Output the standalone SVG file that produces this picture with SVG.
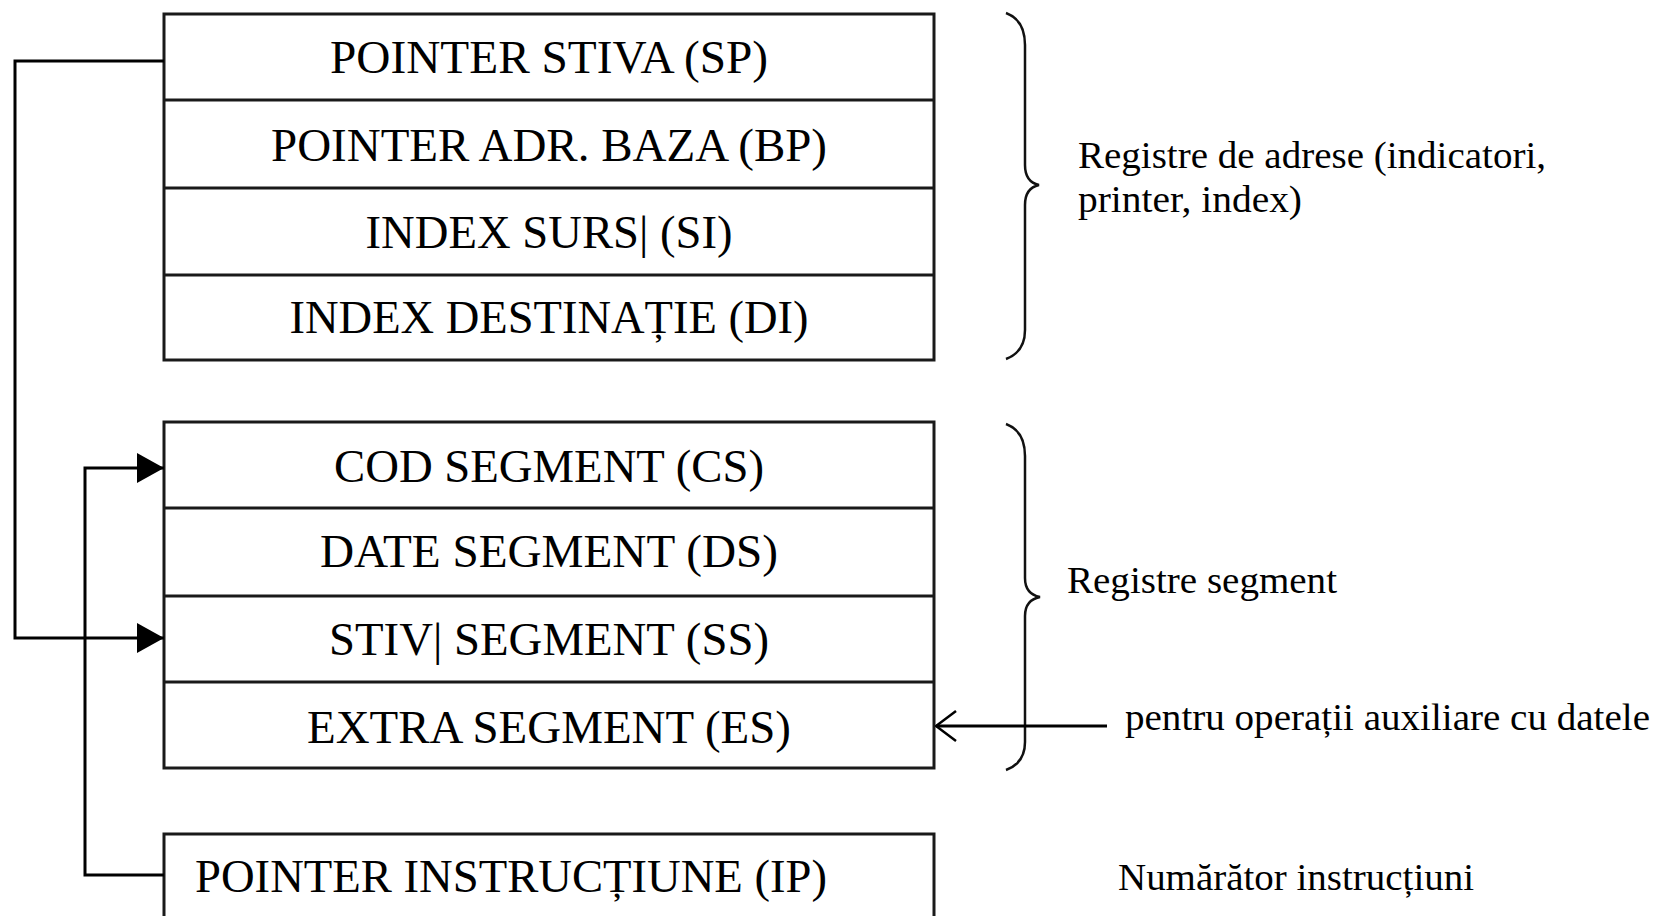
<svg xmlns="http://www.w3.org/2000/svg" width="1657" height="916" viewBox="0 0 1657 916">
<style>
.box{fill:#fff;stroke:#1a1a1a;stroke-width:3}
.div{stroke:#1a1a1a;stroke-width:3}
.reg{font-family:"Liberation Serif","Times New Roman",serif;font-size:46px;fill:#000;text-anchor:middle}
.lbl{font-family:"Liberation Serif","Times New Roman",serif;font-size:38px;fill:#000}
.ln{fill:none;stroke:#000;stroke-width:3}
.brace{fill:none;stroke:#111;stroke-width:2.5}
</style>
<defs>
<marker id="tri" viewBox="0 0 27 30" refX="27" refY="15" markerWidth="27" markerHeight="30" markerUnits="userSpaceOnUse" orient="auto">
<path d="M0,0 L27,15 L0,30 Z" fill="#000"/>
</marker>
<marker id="open" viewBox="0 0 22 32" refX="21" refY="16" markerWidth="22" markerHeight="32" markerUnits="userSpaceOnUse" orient="auto">
<path d="M1,1 L21,16 L1,31" fill="none" stroke="#000" stroke-width="2.5"/>
</marker>
</defs>

<g id="grp-adrese">
<rect class="box" x="164" y="14" width="770" height="346"/>
<line class="div" x1="164" y1="100" x2="934" y2="100"/>
<line class="div" x1="164" y1="188" x2="934" y2="188"/>
<line class="div" x1="164" y1="275" x2="934" y2="275"/>
</g>
<g id="sp"><text class="reg" x="549" y="73" textLength="438" lengthAdjust="spacingAndGlyphs">POINTER STIVA (SP)</text></g>
<g id="bp"><text class="reg" x="549" y="161" textLength="556" lengthAdjust="spacingAndGlyphs">POINTER ADR. BAZA (BP)</text></g>
<g id="si"><text class="reg" x="549" y="248" textLength="367" lengthAdjust="spacingAndGlyphs">INDEX SURS| (SI)</text></g>
<g id="di"><text class="reg" x="549" y="333" textLength="519" lengthAdjust="spacingAndGlyphs">INDEX DESTINAȚIE (DI)</text></g>

<g id="grp-segment">
<rect class="box" x="164" y="422" width="770" height="346"/>
<line class="div" x1="164" y1="508" x2="934" y2="508"/>
<line class="div" x1="164" y1="596" x2="934" y2="596"/>
<line class="div" x1="164" y1="682" x2="934" y2="682"/>
</g>
<g id="cs"><text class="reg" x="549" y="482" textLength="430" lengthAdjust="spacingAndGlyphs">COD SEGMENT (CS)</text></g>
<g id="ds"><text class="reg" x="549" y="567" textLength="458" lengthAdjust="spacingAndGlyphs">DATE SEGMENT (DS)</text></g>
<g id="ss"><text class="reg" x="549" y="655" textLength="440" lengthAdjust="spacingAndGlyphs">STIV| SEGMENT (SS)</text></g>
<g id="es"><text class="reg" x="549" y="743" textLength="484" lengthAdjust="spacingAndGlyphs">EXTRA SEGMENT (ES)</text></g>

<g id="ip">
<rect class="box" x="164" y="834" width="770" height="100"/>
<text class="reg" x="511" y="892" textLength="632" lengthAdjust="spacingAndGlyphs">POINTER INSTRUCȚIUNE (IP)</text>
</g>

<g id="brace-adrese">
<path class="brace" d="M1006,13 Q1025,20 1025,45 L1025,165 Q1025,182 1039,185 Q1025,188 1025,205 L1025,330 Q1025,352 1006,359"/>
<text class="lbl" x="1078" y="168" textLength="468" lengthAdjust="spacingAndGlyphs">Registre de adrese (indicatori,</text>
<text class="lbl" x="1078" y="212" textLength="224" lengthAdjust="spacingAndGlyphs">printer, index)</text>
</g>
<g id="brace-segment">
<path class="brace" d="M1006,424 Q1025,431 1025,456 L1025,578 Q1025,594 1040,597 Q1025,600 1025,616 L1025,742 Q1025,763 1006,770"/>
<text class="lbl" x="1067" y="593" textLength="270" lengthAdjust="spacingAndGlyphs">Registre segment</text>
</g>
<g id="note-es">
<text class="lbl" x="1125" y="730" textLength="525" lengthAdjust="spacingAndGlyphs">pentru operații auxiliare cu datele</text>
</g>
<g id="note-ip">
<text class="lbl" x="1118" y="890" textLength="356" lengthAdjust="spacingAndGlyphs">Numărător instrucțiuni</text>
</g>

<g id="connectors">
<polyline class="ln" points="164,61 15,61 15,638 164,638" marker-end="url(#tri)"/>
<polyline class="ln" points="164,875 85,875 85,468 164,468" marker-end="url(#tri)"/>
<line class="ln" x1="1107" y1="726" x2="936" y2="726" marker-end="url(#open)"/>
</g>
</svg>
